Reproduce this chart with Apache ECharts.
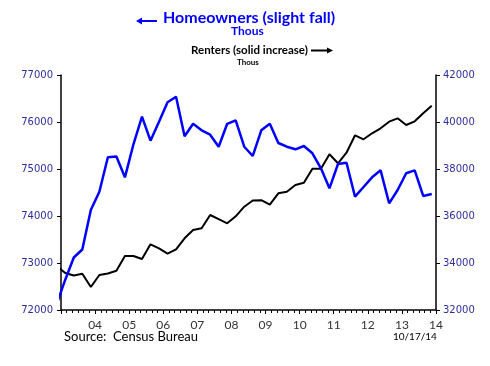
<!DOCTYPE html>
<html>
<head>
<meta charset="utf-8">
<script src="https://cdn.jsdelivr.net/npm/echarts@6/dist/echarts.min.js"></script>
<style>html,body{margin:0;padding:0;background:#fff;}#c{width:490px;height:366px;}</style>
</head>
<body>
<div id="c"></div>
<script>
// Quarters (year, quarter)
const quarters = [
 '2003Q2','2003Q3','2003Q4',
 '2004Q1','2004Q2','2004Q3','2004Q4',
 '2005Q1','2005Q2','2005Q3','2005Q4',
 '2006Q1','2006Q2','2006Q3','2006Q4',
 '2007Q1','2007Q2','2007Q3','2007Q4',
 '2008Q1','2008Q2','2008Q3','2008Q4',
 '2009Q1','2009Q2','2009Q3','2009Q4',
 '2010Q1','2010Q2','2010Q3','2010Q4',
 '2011Q1','2011Q2','2011Q3','2011Q4',
 '2012Q1','2012Q2','2012Q3','2012Q4',
 '2013Q1','2013Q2','2013Q3','2013Q4',
 '2014Q1','2014Q2'
];
// Homeowner households, thousands (left axis)
const homeowners = [
 72130,72645,73117,
 73287,74128,74517,75249,
 75266,74823,75526,76113,
 75602,76006,76419,76538,
 75696,75964,75823,75730,
 75474,75962,76036,75474,
 75277,75823,75964,75553,
 75474,75419,75489,75334,
 75015,74589,75106,75134,
 74411,74617,74823,74972,
 74270,74553,74909,74972,
 74426,74468
];
// Renter households, thousands (right axis)
const renters = [
 33872,33574,33468,
 33545,32979,33489,33553,
 33672,34298,34298,34170,
 34796,34626,34396,34583,
 35051,35404,35477,36043,
 35864,35689,35987,36396,
 36660,36672,36481,36966,
 37034,37319,37417,38013,
 38013,38626,38243,38694,
 39434,39264,39519,39732,
 40013,40157,39872,40030,
 40370,40694
];
const leftTicks = [72000, 77000, 1000];
const rightTicks = [32000, 42000, 2000];
const yearRange = [2003.5, 2014.5];

function qx(q){ const y = +q.slice(0,4), n = +q.slice(5); return y + (n-1)/4 + 0.125; }
const homeData = quarters.map((q,i)=>[qx(q), homeowners[i]]);
const rentData = quarters.map((q,i)=>[qx(q), renters[i]]);

const navy = '#2e2e9a';
const chart = echarts.init(document.getElementById('c'), null, {renderer:'canvas'});
chart.setOption({
  animation:false,
  backgroundColor:'#fff',
  grid:{left:61, right:54, top:75, bottom:56, containLabel:false},
  xAxis:{
    type:'value', min:yearRange[0], max:yearRange[1], interval:1,
    axisLine:{show:true, onZero:false, lineStyle:{color:'#000', width:1.5}},
    axisTick:{show:true, length:4, lineStyle:{color:'#000'}},
    minorTick:{show:true, splitNumber:6, length:3, lineStyle:{color:'#000'}},
    splitLine:{show:false},
    axisLabel:{
      margin:9, color:'#333', fontFamily:'Lato', fontSize:12,
      formatter:function(v){ if (v < 2004) return ''; const y = Math.floor(v)%100; return (y<10?'0':'')+y; }
    }
  },
  yAxis:[
    {type:'value', position:'left', min:leftTicks[0], max:leftTicks[1], interval:leftTicks[2],
     axisLine:{show:true, lineStyle:{color:'#000', width:1.5}},
     axisTick:{show:true, length:4, lineStyle:{color:'#000'}},
     splitLine:{show:false},
     axisLabel:{margin:8, color:navy, fontFamily:'DejaVu Sans', fontSize:10, formatter:v=>String(v)}},
    {type:'value', position:'right', min:rightTicks[0], max:rightTicks[1], interval:rightTicks[2],
     axisLine:{show:true, lineStyle:{color:'#000', width:1.5}},
     axisTick:{show:true, length:4, lineStyle:{color:'#000'}},
     splitLine:{show:false},
     axisLabel:{margin:7, color:navy, fontFamily:'DejaVu Sans', fontSize:10, formatter:v=>String(v)}}
  ],
  series:[
    {type:'line', name:'Renters', yAxisIndex:1, data:rentData, symbol:'none', clip:true,
     lineStyle:{color:'#000', width:2}},
    {type:'line', name:'Homeowners', yAxisIndex:0, data:homeData, symbol:'none', clip:true,
     lineStyle:{color:'#0000ff', width:2.5}}
  ],
  graphic:[
    {type:'text', left:163, top:10, style:{text:'Homeowners (slight fall)', fill:'#0000ff', font:'bold 16px Lato'}},
    {type:'line', shape:{x1:140, y1:21, x2:157, y2:21}, style:{stroke:'#0000ff', lineWidth:2}},
    {type:'polygon', shape:{points:[[136,21],[142,17.5],[142,24.5]]}, style:{fill:'#0000ff'}},
    {type:'text', left:231, top:25, style:{text:'Thous', fill:'#0000ff', font:'bold 12px Lato'}},
    {type:'text', left:191, top:44, style:{text:'Renters (solid increase)', fill:'#000', font:'bold 11.5px Lato'}},
    {type:'line', shape:{x1:311, y1:50.5, x2:328, y2:50.5}, style:{stroke:'#000', lineWidth:2}},
    {type:'polygon', shape:{points:[[333,50.5],[327,47.5],[327,53.5]]}, style:{fill:'#000'}},
    {type:'text', left:237, top:58, style:{text:'Thous', fill:'#000', font:'bold 8px Lato'}},
    {type:'text', left:64, top:330, style:{text:'Source:  Census Bureau', fill:'#000', font:'13px Lato'}},
    {type:'text', left:393, top:332, style:{text:'10/17/14', fill:'#000', font:'10px Lato'}}
  ]
});
</script>
</body>
</html>
